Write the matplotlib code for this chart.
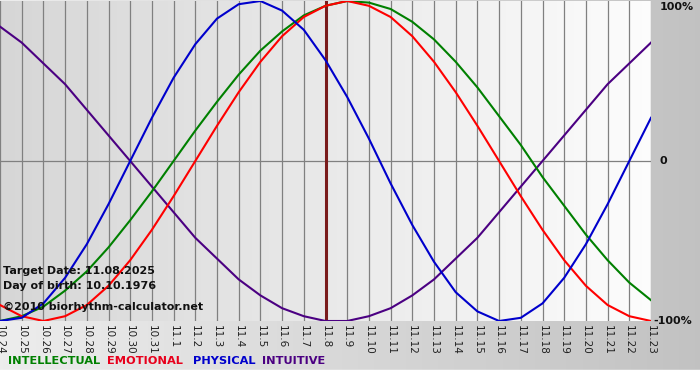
import numpy as np
import matplotlib
matplotlib.use("Agg")
import matplotlib.pyplot as plt

days = ["10.24", "10.25", "10.26", "10.27", "10.28", "10.29", "10.30", "10.31",
        "11.1", "11.2", "11.3", "11.4", "11.5", "11.6", "11.7", "11.8", "11.9",
        "11.10", "11.11", "11.12", "11.13", "11.14", "11.15", "11.16", "11.17",
        "11.18", "11.19", "11.20", "11.21", "11.22", "11.23"]

physical = [-1.00, -0.98, -0.89, -0.73, -0.52, -0.27, 0.00, 0.27, 0.52, 0.73, 0.89,
            0.98, 1.00, 0.94, 0.82, 0.63, 0.40, 0.14, -0.14, -0.40, -0.63, -0.82,
            -0.94, -1.00, -0.98, -0.89, -0.73, -0.52, -0.27, 0.00, 0.27]
emotional = [-0.90, -0.97, -1.00, -0.97, -0.90, -0.78, -0.62, -0.43, -0.22, 0.00,
             0.22, 0.43, 0.62, 0.78, 0.90, 0.97, 1.00, 0.97, 0.90, 0.78, 0.62, 0.43,
             0.22, 0.00, -0.22, -0.43, -0.62, -0.78, -0.90, -0.97, -1.00]
intellectual = [-1.00, -0.97, -0.91, -0.81, -0.69, -0.54, -0.37, -0.19, 0.00, 0.19,
                0.37, 0.54, 0.69, 0.81, 0.91, 0.97, 1.00, 0.99, 0.95, 0.87, 0.76,
                0.62, 0.46, 0.28, 0.10, -0.10, -0.28, -0.46, -0.62, -0.76, -0.87]
intuitive = [0.84, 0.74, 0.61, 0.48, 0.32, 0.16, 0.00, -0.16, -0.32, -0.48, -0.61,
             -0.74, -0.84, -0.92, -0.97, -1.00, -1.00, -0.97, -0.92, -0.84, -0.74,
             -0.61, -0.48, -0.32, -0.16, 0.00, 0.16, 0.32, 0.48, 0.61, 0.74]
target_day = "11.8"

W, H = 700, 380
fig = plt.figure(figsize=(7, 3.8), dpi=100)

# outer background gradient (light left -> gray right), white strip at the bottom
bg = fig.add_axes([0, 0, 1, 1])
bg.set_axis_off()
grad = np.linspace(0.93, 0.76, 256)[None, :]
bg.imshow(np.dstack([grad] * 3), extent=[0, 1, 10 / H, 1], aspect="auto")
bg.axhspan(0, 10 / H, color="white")
bg.set_xlim(0, 1)
bg.set_ylim(0, 1)

left, right, top, bottom = 0 / W, 651 / W, 1 / H, 321 / H
ax = fig.add_axes([left, 1 - bottom, right - left, bottom - top])
x = np.arange(len(days))
pgrad = np.linspace(0.84, 0.99, 256)[None, :]
ax.imshow(np.dstack([pgrad] * 3), extent=[0, len(days) - 1, -1, 1],
          aspect="auto", zorder=0)

for xi in x:
    ax.axvline(xi, color="#808080", lw=0.9, zorder=1)
ax.axhline(0, color="#808080", lw=0.9, zorder=1)

ax.axvline(days.index(target_day), color="#7a1c1c", lw=2.2, zorder=2)

ax.plot(x, intuitive, color="#4b0082", lw=1.5, zorder=3)
ax.plot(x, intellectual, color="#008000", lw=1.5, zorder=3)
ax.plot(x, emotional, color="#ff0000", lw=1.5, zorder=3)
ax.plot(x, physical, color="#0000cc", lw=1.5, zorder=3)

ax.set_xlim(0, len(days) - 1)
ax.set_ylim(-1, 1)
ax.set_xticks(x)
ax.set_xticklabels(days, rotation=-90, fontsize=7.5, color="#222222")
ax.tick_params(axis="x", length=0, pad=3)
ax.set_yticks([])
for s in ax.spines.values():
    s.set_visible(False)

bold = dict(fontsize=8, fontweight="bold", color="#111111")
fig.text(660 / W, 1 - 7 / H, "100%", va="center", ha="left", **bold)
fig.text(660 / W, 1 - 161 / H, "0", va="center", ha="left", **bold)
fig.text(653 / W, 1 - 321 / H, "-100%", va="center", ha="left", **bold)

fig.text(3 / W, 1 - 271 / H, "Target Date: 11.08.2025", va="center", **bold)
fig.text(3 / W, 1 - 286 / H, "Day of birth: 10.10.1976", va="center", **bold)
fig.text(3 / W, 1 - 307 / H, "\u00a92010 biorhythm-calculator.net", va="center", **bold)

legend = [("INTELLECTUAL", "#008000", 8), ("EMOTIONAL", "#e8001c", 107),
          ("PHYSICAL", "#0000cc", 193), ("INTUITIVE", "#4b0082", 262)]
for name, col, px in legend:
    fig.text(px / W, 1 - 361 / H, name, va="center", ha="left",
             fontsize=8.2, fontweight="bold", color=col)

fig.savefig("out.png", dpi=100)
